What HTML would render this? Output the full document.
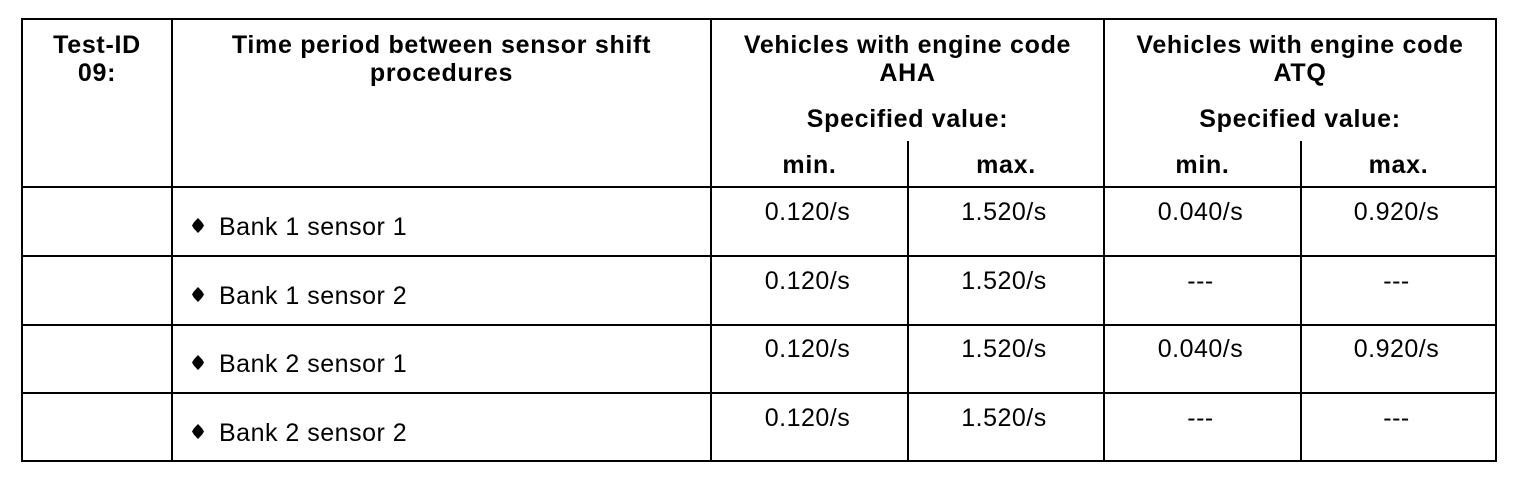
<!DOCTYPE html>
<html><head><style>
body{margin:0;width:1520px;height:482px;background:#fff;position:relative;font-family:"Liberation Sans",Arial,sans-serif;color:#000;overflow:hidden}
.l{position:absolute;background:#000}
.t{position:absolute;text-align:center;font-size:25px;line-height:28px;white-space:nowrap;letter-spacing:0.5px}
.b{font-weight:bold;letter-spacing:0.7px}
.d{position:absolute;width:12px;height:15px;background:#000;clip-path:polygon(50% 0,85% 30%,100% 50%,85% 70%,50% 100%,15% 70%,0 50%,15% 30%)}
</style></head><body>
<div class="l" style="left:21px;top:18px;width:1476px;height:2px"></div>
<div class="l" style="left:21px;top:460px;width:1476px;height:2px"></div>
<div class="l" style="left:21px;top:18px;width:2px;height:444px"></div>
<div class="l" style="left:1495px;top:18px;width:2px;height:444px"></div>
<div class="l" style="left:171px;top:18px;width:2px;height:444px"></div>
<div class="l" style="left:710px;top:18px;width:2px;height:444px"></div>
<div class="l" style="left:1103px;top:18px;width:2px;height:444px"></div>
<div class="l" style="left:907px;top:141px;width:2px;height:321px"></div>
<div class="l" style="left:1300px;top:141px;width:2px;height:321px"></div>
<div class="l" style="left:21px;top:186px;width:1476px;height:2px"></div>
<div class="l" style="left:21px;top:255px;width:1476px;height:2px"></div>
<div class="l" style="left:21px;top:324px;width:1476px;height:2px"></div>
<div class="l" style="left:21px;top:392px;width:1476px;height:2px"></div>

<div class="t b" style="left:23px;width:148px;top:31px">Test-ID<br>09:</div>
<div class="t b" style="left:173px;width:537px;top:31px">Time period between sensor shift<br>procedures</div>
<div class="t b" style="left:712px;width:391px;top:31px">Vehicles with engine code<br>AHA</div>
<div class="t b" style="left:1105px;width:390px;top:31px">Vehicles with engine code<br>ATQ</div>
<div class="t b" style="left:712px;width:391px;top:105px">Specified value:</div>
<div class="t b" style="left:1105px;width:390px;top:105px">Specified value:</div>
<div class="t b" style="left:712px;width:195px;top:151px">min.</div>
<div class="t b" style="left:909px;width:194px;top:151px">max.</div>
<div class="t b" style="left:1105px;width:195px;top:151px">min.</div>
<div class="t b" style="left:1302px;width:193px;top:151px">max.</div>

<div class="d" style="left:192px;top:218px"></div>
<div class="d" style="left:192px;top:287px"></div>
<div class="d" style="left:192px;top:355px"></div>
<div class="d" style="left:192px;top:424px"></div>
<div class="t" style="left:219px;top:213px;text-align:left">Bank 1 sensor 1</div>
<div class="t" style="left:219px;top:282px;text-align:left">Bank 1 sensor 2</div>
<div class="t" style="left:219px;top:350px;text-align:left">Bank 2 sensor 1</div>
<div class="t" style="left:219px;top:419px;text-align:left">Bank 2 sensor 2</div>

<div class="t" style="left:710px;width:195px;top:198px">0.120/s</div>
<div class="t" style="left:907px;width:194px;top:198px">1.520/s</div>
<div class="t" style="left:1103px;width:195px;top:198px">0.040/s</div>
<div class="t" style="left:1300px;width:193px;top:198px">0.920/s</div>

<div class="t" style="left:710px;width:195px;top:267px">0.120/s</div>
<div class="t" style="left:907px;width:194px;top:267px">1.520/s</div>
<div class="t" style="left:1103px;width:195px;top:267px">---</div>
<div class="t" style="left:1300px;width:193px;top:267px">---</div>

<div class="t" style="left:710px;width:195px;top:335px">0.120/s</div>
<div class="t" style="left:907px;width:194px;top:335px">1.520/s</div>
<div class="t" style="left:1103px;width:195px;top:335px">0.040/s</div>
<div class="t" style="left:1300px;width:193px;top:335px">0.920/s</div>

<div class="t" style="left:710px;width:195px;top:404px">0.120/s</div>
<div class="t" style="left:907px;width:194px;top:404px">1.520/s</div>
<div class="t" style="left:1103px;width:195px;top:404px">---</div>
<div class="t" style="left:1300px;width:193px;top:404px">---</div>
</body></html>
